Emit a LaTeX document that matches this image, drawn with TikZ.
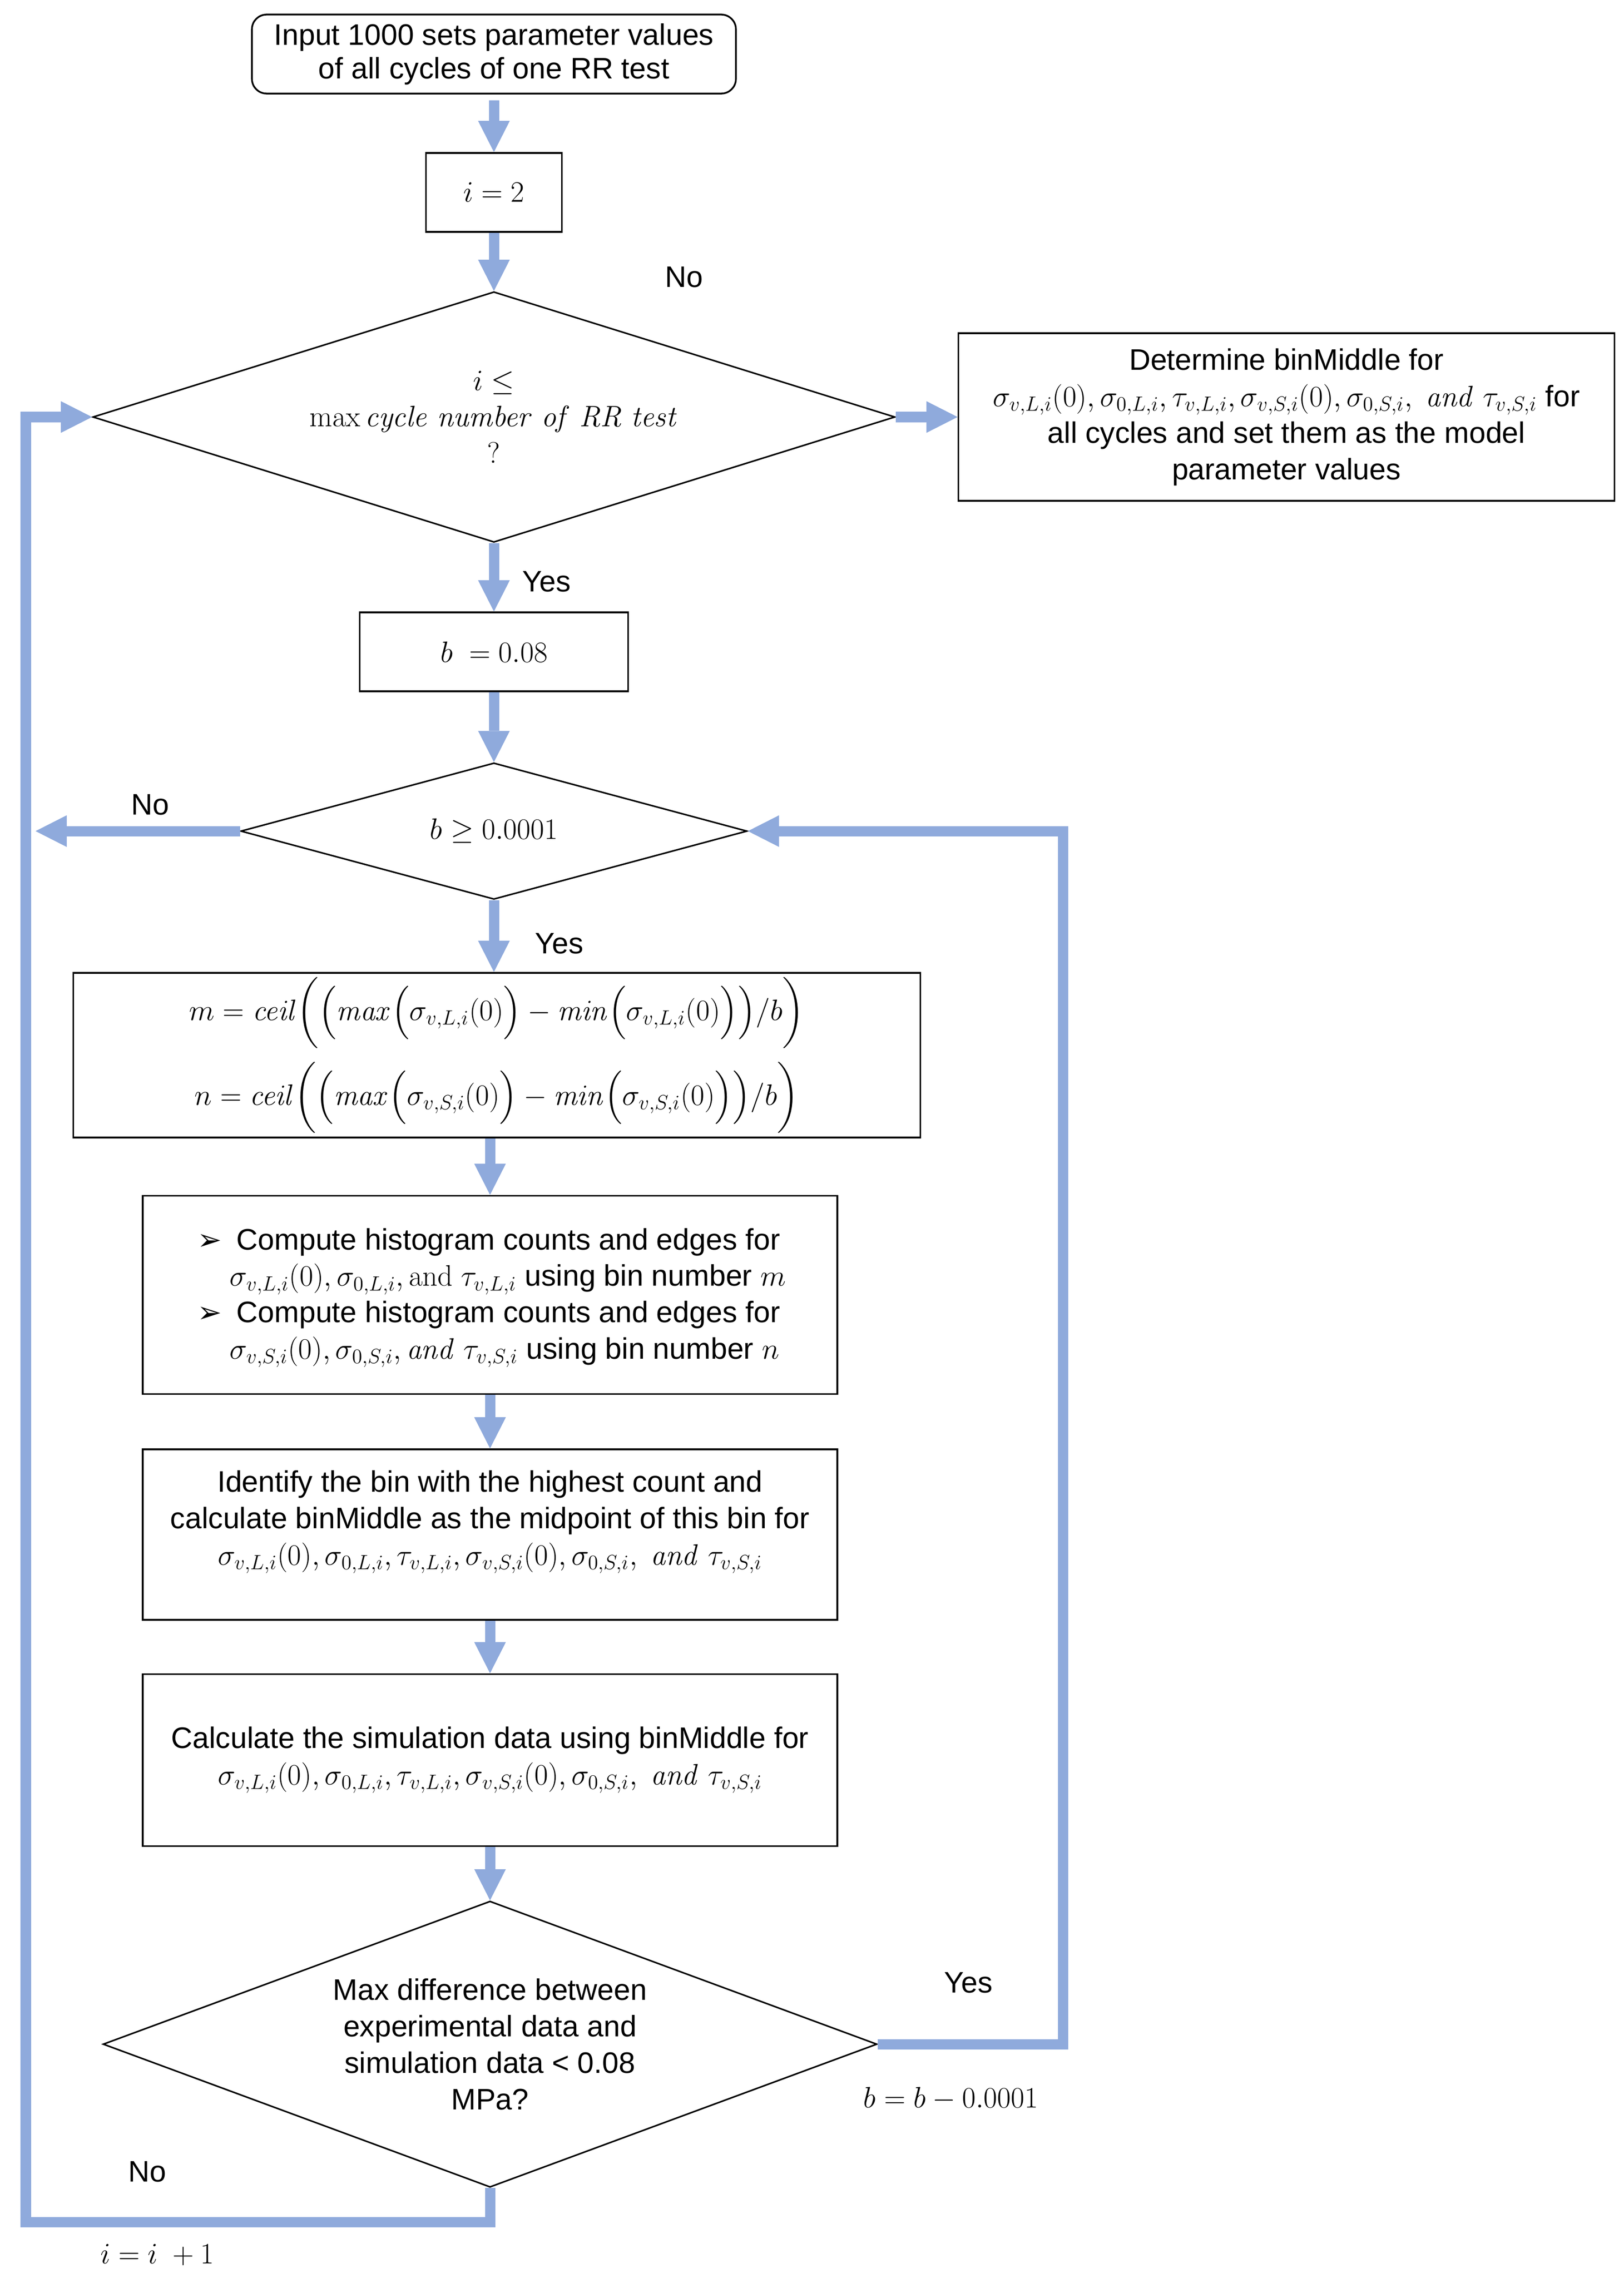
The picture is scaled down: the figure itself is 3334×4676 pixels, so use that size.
\documentclass[tikz,border=0pt]{standalone}
\usepackage{amsmath}
\usepackage[no-math]{fontspec}
\setmainfont{Liberation Sans}
\newfontfamily\dejavu{DejaVu Sans}
\usetikzlibrary{arrows.meta,shapes.geometric}
\definecolor{flowblue}{RGB}{143,170,220}
\newcommand{\paramlist}{$\sigma_{v,L,i}(0), \sigma_{0,L,i}, \tau_{v,L,i}, \sigma_{v,S,i}(0), \sigma_{0,S,i},\ \mathit{and}\ \tau_{v,S,i}$}
\newcommand{\bul}{\makebox[0.8cm][l]{\dejavu\fontsize{17}{17}\selectfont ➢}}
\begin{document}
\begin{tikzpicture}[x=0.01cm, y=-0.01cm,
  base/.style={font=\fontsize{17.3}{21.3}\selectfont, align=center, inner sep=0pt},
  procbox/.style={base, draw=black, line width=1pt, rectangle},
  decbox/.style={base, draw=black, line width=0.9pt, diamond},
  flow/.style={draw=flowblue, line width=0.21cm, line join=miter,
    -{Triangle[length=0.64cm, width=0.65cm, line width=0pt]}},
  lbl/.style={base}]
\useasboundingbox (0,0) rectangle (3334,4676);

% nodes
\node[procbox, rounded corners=0.3cm, minimum width=9.93cm, minimum height=1.62cm,
  font=\fontsize{17.3}{19.6}\selectfont] (start) at (1014,111)
  {Input 1000 sets parameter values\\of all cycles of one RR test};
\node[procbox, minimum width=2.79cm, minimum height=1.62cm] (i2) at (1014,395) {$i = 2$};
\node[decbox, aspect=3.2, minimum width=16.46cm, minimum height=5.14cm] (d1) at (1014,856)
  {$i \leq$\\$\max \mathit{cycle\ number\ of\ RR\ test}$\\$?$};
\node[procbox, minimum width=13.46cm, minimum height=3.44cm] (det) at (2641,856)
  {Determine binMiddle for\\\paramlist{} for\\all cycles and set them as the model\\parameter values};
\node[procbox, minimum width=5.51cm, minimum height=1.62cm] (bb) at (1014,1338) {$b\ = 0.08$};
\node[decbox, aspect=3.7, minimum width=10.39cm, minimum height=2.80cm] (d2) at (1014,1706) {$b \geq 0.0001$};
\node[procbox, minimum width=17.38cm, minimum height=3.38cm] (mn) at (1020,2166)
  {$m = \mathit{ceil}\biggl(\Bigl(\mathit{max}\Bigl(\sigma_{v,L,i}(0)\Bigr) - \mathit{min}\Bigl(\sigma_{v,L,i}(0)\Bigr)\Bigr)/b\biggr)$\\[0.25cm]
   $n = \mathit{ceil}\biggl(\Bigl(\mathit{max}\Bigl(\sigma_{v,S,i}(0)\Bigr) - \mathit{min}\Bigl(\sigma_{v,S,i}(0)\Bigr)\Bigr)/b\biggr)$};
\node[procbox, minimum width=14.25cm, minimum height=4.07cm] (hist) at (1006,2658) {};
\node[base, anchor=west, align=left] (histtxt) at (405,2664)
  {\bul Compute histogram counts and edges for\\
   \hspace*{0.66cm}$\sigma_{v,L,i}(0), \sigma_{0,L,i}, \mathrm{and}\ \tau_{v,L,i}$ using bin number $m$\\
   \bul Compute histogram counts and edges for\\
   \hspace*{0.66cm}$\sigma_{v,S,i}(0), \sigma_{0,S,i}, \mathit{and}\ \tau_{v,S,i}$ using bin number $n$};
\node[procbox, minimum width=14.25cm, minimum height=3.50cm] (ident) at (1006,3150) {};
\node[base] (identtxt) at (1006,3124)
  {Identify the bin with the highest count and\\calculate binMiddle as the midpoint of this bin for\\\paramlist};
\node[procbox, minimum width=14.25cm, minimum height=3.53cm] (calc) at (1006,3613)
  {Calculate the simulation data using binMiddle for\\\paramlist};
\node[decbox, aspect=2.7, minimum width=15.88cm, minimum height=5.87cm] (d3) at (1006,4196)
  {Max difference between\\experimental data and\\simulation data < 0.08\\MPa?};

% free ends of connectors
\coordinate (noend) at (73,1706);
\coordinate (rt) at (2182,1706);
\coordinate (lb) at (53,4561);

% connectors
\draw[flow, shorten <=0.12cm] (start) -- (i2);
\draw[flow] (i2) -- (d1);
\draw[flow] (d1.east) -- (det.west);
\draw[flow] (d1) -- (bb);
\draw[flow] (bb) -- (d2);
\draw[flow] (d2.west) -- (noend);
\draw[flow] (d2.south) -- (d2.south |- mn.north);
\draw[flow] (hist.north |- mn.south) -- (hist.north);
\draw[flow] (hist) -- (ident);
\draw[flow] (ident) -- (calc);
\draw[flow] (calc) -- (d3);
\draw[flow] (d3.east) -| (rt) -- (d2.east);
\draw[flow] (d3.south) |- (lb) |- (d1.west);

% labels
\node[lbl] (no1) at (1404,569) {No};
\node[lbl] (yes1) at (1122,1194) {Yes};
\node[lbl] (no2) at (308,1652) {No};
\node[lbl] (yes2) at (1148,1937) {Yes};
\node[lbl] (yes3) at (1988,4070) {Yes};
\node[lbl] (bdec) at (1952,4308) {$b = b - 0.0001$};
\node[lbl] (no3) at (302,4458) {No};
\node[lbl] (iinc) at (323,4628) {$i = i\ + 1$};
\end{tikzpicture}
\end{document}
